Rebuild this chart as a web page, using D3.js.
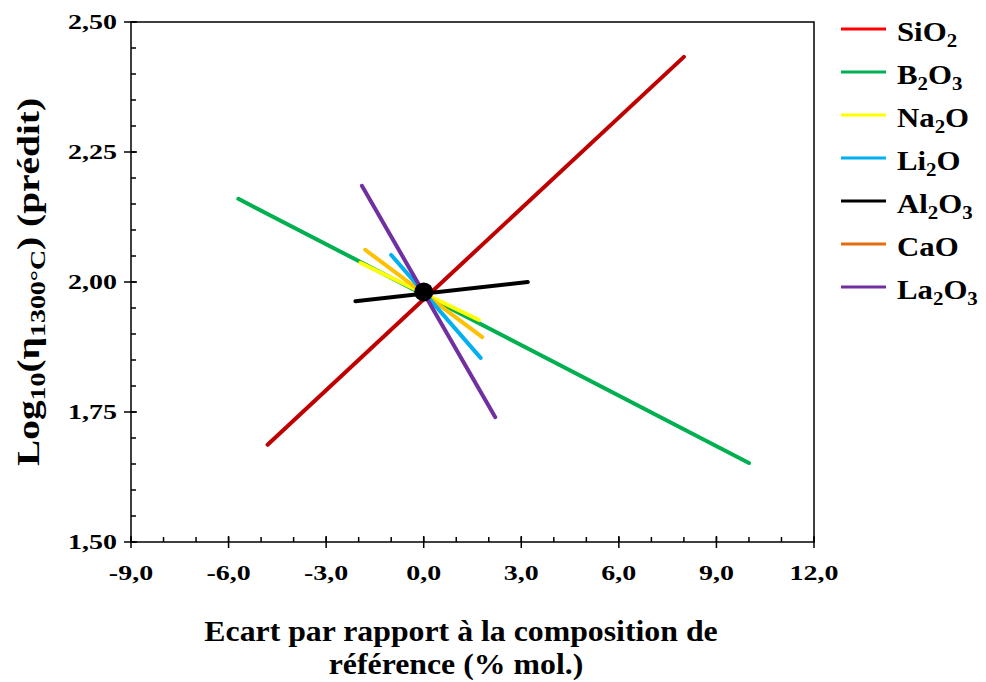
<!DOCTYPE html>
<html>
<head>
<meta charset="utf-8">
<script src="https://cdn.jsdelivr.net/npm/d3@7"></script>
<style>
  body { margin: 0; background: #fff; }
  text { font-family: "Liberation Serif", "DejaVu Serif", serif; font-weight: bold; }
</style>
</head>
<body>
<div id="graph"></div>
<script>
// oxides, in legend order
var oxides = ['SiO2', 'B2O3', 'Na2O', 'Li2O', 'Al2O3', 'CaO', 'La2O3']
var legendLabels = [
  [['Si', 0], ['O', 0], ['2', 1]],
  [['B', 0], ['2', 1], ['O', 0], ['3', 1]],
  [['Na', 0], ['2', 1], ['O', 0]],
  [['Li', 0], ['2', 1], ['O', 0]],
  [['Al', 0], ['2', 1], ['O', 0], ['3', 1]],
  [['CaO', 0]],
  [['La', 0], ['2', 1], ['O', 0], ['3', 1]]
]
// segment ends [x0, y0, x1, y1] (ecart % mol., log10 viscosity)
var segX0 = [-4.8, -5.7, -1.95, -1.0, -2.1, -1.8, -1.9]
var segY0 = [1.687, 2.160, 2.037, 2.052, 1.963, 2.062, 2.185]
var segX1 = [8.0, 10.0, 1.7, 1.75, 3.2, 1.8, 2.2]
var segY1 = [2.433, 1.652, 1.927, 1.854, 2.000, 1.894, 1.740]
var refPoint = [0, 1.981]

var xTicks = [-9, -6, -3, 0, 3, 6, 9, 12]
var yTicks = [1.5, 1.75, 2.0, 2.25, 2.5]

var lineColors = ['#C00000', '#00B050', '#FFFF00', '#00B0F0', '#000000', '#FFC000', '#7030A0']
var legendColors = ['#FF0000', '#00B050', '#FFFF00', '#00B0F0', '#000000', '#E46C0A', '#7030A0']
var drawOrder = [0, 1, 2, 5, 3, 6, 4]

var W = 986, H = 682
var m = {left: 131, top: 22, right: 172, bottom: 140}

var svg = d3.select('#graph').append('svg').attr('width', W).attr('height', H)

var x = d3.scaleLinear().domain([-9, 12]).range([m.left, W - m.right])
var y = d3.scaleLinear().domain([1.5, 2.5]).range([H - m.bottom, m.top])

var fmt = d => d3.format('.1f')(d).replace('.', ',').replace('−', '-')
var fmtY = d => d3.format('.2f')(d).replace('.', ',')

// plot frame
svg.append('rect')
  .attr('x', x(-9)).attr('y', y(2.5))
  .attr('width', x(12) - x(-9)).attr('height', y(1.5) - y(2.5))
  .attr('fill', 'none').attr('stroke', '#000').attr('stroke-width', 1.5)

// minor ticks (inside)
var g = svg.append('g').attr('stroke', '#000').attr('stroke-width', 1.5)
d3.range(-9, 12.01, 1).forEach(v => {
  g.append('line').attr('x1', x(v)).attr('x2', x(v)).attr('y1', y(1.5)).attr('y2', y(1.5) - 5)
})
d3.range(1.5, 2.501, 0.05).forEach(v => {
  g.append('line').attr('x1', x(-9)).attr('x2', x(-9) + 5).attr('y1', y(v)).attr('y2', y(v))
})
// major ticks (crossing)
xTicks.forEach(v => {
  g.append('line').attr('x1', x(v)).attr('x2', x(v)).attr('y1', y(1.5) - 6).attr('y2', y(1.5) + 6)
})
yTicks.forEach(v => {
  g.append('line').attr('x1', x(-9) - 7).attr('x2', x(-9) + 6).attr('y1', y(v)).attr('y2', y(v))
})

// tick labels, stretched wide like the original
svg.append('g').selectAll('text').data(xTicks).join('text')
  .attr('transform', d => `translate(${x(d)}, ${y(1.5) + 38}) scale(1.4, 1)`)
  .attr('text-anchor', 'middle').attr('font-size', 20)
  .text(fmt)

svg.append('g').selectAll('text').data(yTicks).join('text')
  .attr('transform', d => `translate(${x(-9) - 14}, ${y(d) + 7}) scale(1.4, 1)`)
  .attr('text-anchor', 'end').attr('font-size', 20)
  .text(fmtY)

// segments
svg.append('g').selectAll('line').data(drawOrder).join('line')
  .attr('x1', i => x(segX0[i])).attr('y1', i => y(segY0[i]))
  .attr('x2', i => x(segX1[i])).attr('y2', i => y(segY1[i]))
  .attr('stroke', i => lineColors[i]).attr('stroke-width', 4)
  .attr('stroke-linecap', 'round')

svg.append('circle')
  .attr('cx', x(refPoint[0])).attr('cy', y(refPoint[1])).attr('r', 9.5)
  .attr('fill', '#000')

// legend
var leg = svg.append('g').selectAll('g').data(oxides).join('g')
  .attr('transform', (d, i) => `translate(0, ${29 + i * 43})`)
leg.append('line')
  .attr('x1', 841).attr('x2', 886).attr('y1', 0).attr('y2', 0)
  .attr('stroke', (d, i) => legendColors[i]).attr('stroke-width', 3)
leg.append('text')
  .attr('transform', 'translate(897, 12) scale(1.1, 1)')
  .attr('font-size', 28)
  .each(function(d, i) {
    var t = d3.select(this)
    legendLabels[i].forEach(([s, sub]) => {
      t.append('tspan').text(s)
        .attr('font-size', sub ? 19 : 28)
        .attr('baseline-shift', sub ? '-6' : null)
    })
  })

// y title
var yt = svg.append('text')
  .attr('transform', `translate(39, 282) rotate(-90) scale(1.27, 1)`)
  .attr('text-anchor', 'middle').attr('font-size', 31)
yt.append('tspan').text('Log')
yt.append('tspan').text('10').attr('font-size', 22).attr('baseline-shift', '-6')
yt.append('tspan').text('(η')
yt.append('tspan').text('1300°C').attr('font-size', 22).attr('baseline-shift', '-6')
yt.append('tspan').text(') (prédit)')

// x title
svg.append('text').attr('transform', 'translate(461, 641) scale(1.06, 1)')
  .attr('text-anchor', 'middle').attr('font-size', 30)
  .text('Ecart par rapport à la composition  de')
svg.append('text').attr('transform', 'translate(456, 674) scale(1.06, 1)')
  .attr('text-anchor', 'middle').attr('font-size', 30)
  .text('référence (% mol.)')
</script>
</body>
</html>
